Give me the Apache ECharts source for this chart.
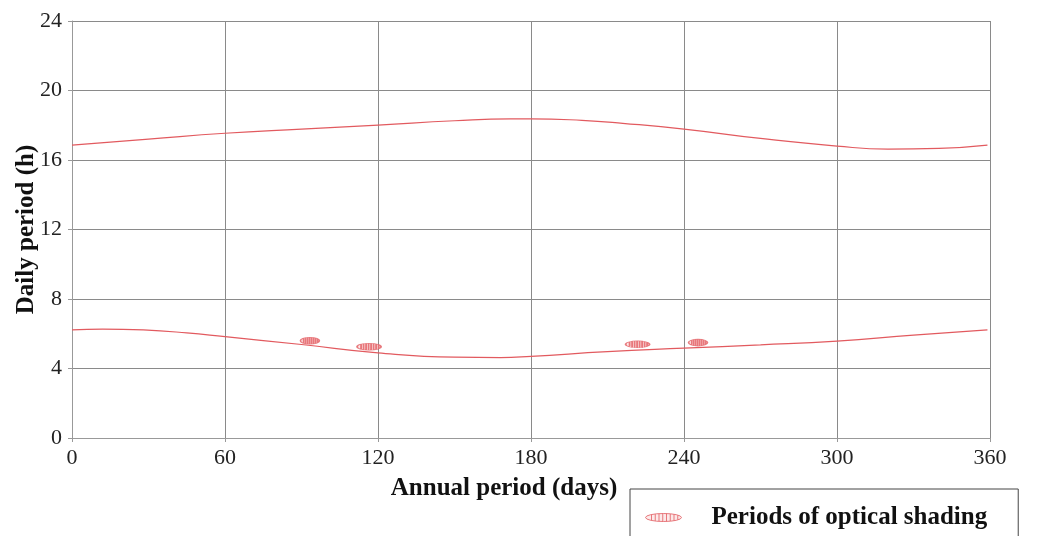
<!DOCTYPE html>
<html>
<head>
<meta charset="utf-8">
<script src="https://cdn.jsdelivr.net/npm/echarts@6/dist/echarts.min.js"></script>
<style>
  html, body { margin: 0; padding: 0; background: #fff; }
  #chart { width: 1040px; height: 536px; }
</style>
</head>
<body>
<div id="chart"></div>
<script>
// Day of year for each sample of the curves
const upperDays = [0, 30, 60, 90, 120, 150, 172, 180, 200, 216, 240, 270, 300, 320, 340, 359];
// Upper bound of the daily period (h)
const upperHours = [16.86, 17.20, 17.54, 17.78, 18.01, 18.26, 18.37, 18.37, 18.28, 18.11, 17.78, 17.24, 16.80, 16.63, 16.67, 16.86];

const lowerDays = [0, 12, 28, 45, 60, 90, 120, 150, 168, 180, 210, 240, 270, 300, 330, 359];
// Lower bound of the daily period (h)
const lowerHours = [6.22, 6.27, 6.22, 6.05, 5.83, 5.38, 4.90, 4.65, 4.63, 4.70, 4.97, 5.17, 5.36, 5.58, 5.92, 6.22];

// Periods of optical shading: [day, hour]
const shadingDays = [93.3, 116.5, 221.8, 245.5];
const shadingHours = [5.60, 5.25, 5.39, 5.49];
const shadingWidths = [19, 24, 24, 19];

const xTicks = [0, 60, 120, 180, 240, 300, 360];
const yTicks = [0, 4, 8, 12, 16, 20, 24];

const RED = '#e25a5f';
const FONT = '"Liberation Serif", "DejaVu Serif", serif';

// Hatched ellipse marker: outline plus vertical stripes
const hatchPath = 'path://M0,5 A12,5 0 1,1 24,5 A12,5 0 1,1 0,5 Z' +
  ' M4,1.8 L4,8.2 M6.5,0.9 L6.5,9.1 M9,0.4 L9,9.6 M11.5,0.1 L11.5,9.9 M14,0.2 L14,9.8' +
  ' M16.5,0.6 L16.5,9.4 M19,1.2 L19,8.8 M21.5,2.4 L21.5,7.6';

const markStyle = { color: '#fbe3e4', borderColor: RED, borderWidth: 1 };

const chart = echarts.init(document.getElementById('chart'));

chart.setOption({
  animation: false,
  backgroundColor: '#fff',
  grid: { left: 72, right: 50, top: 21, bottom: 98, containLabel: false, outerBoundsMode: 'none' },
  legend: {
    left: 630,
    top: 489,
    orient: 'horizontal',
    padding: [16, 31, 26, 15],
    borderColor: '#444',
    borderWidth: 1,
    itemWidth: 36,
    itemHeight: 8,
    itemGap: 10,
    symbolKeepAspect: false,
    selectedMode: false,
    textStyle: { fontFamily: FONT, fontWeight: 'bold', fontSize: 25, color: '#111', padding: [0, 0, 0, 25] },
    data: [{ name: 'Periods of optical shading', icon: hatchPath, itemStyle: markStyle }]
  },
  xAxis: {
    type: 'value',
    min: 0, max: 360, interval: 60,
    name: 'Annual period (days)',
    nameLocation: 'middle',
    nameGap: 38,
    nameMoveOverlap: false,
    nameTextStyle: { fontFamily: FONT, fontWeight: 'bold', fontSize: 25, color: '#111', padding: [0, 54, 0, 0] },
    axisLine: { show: true, lineStyle: { color: '#999', width: 1 } },
    axisTick: { show: true, length: 4, lineStyle: { color: '#999' } },
    axisLabel: { fontFamily: FONT, fontSize: 22, color: '#222', margin: 9,
      formatter: v => xTicks.includes(v) ? String(v) : '' },
    splitLine: { show: true, lineStyle: { color: '#8a8a8a', width: 1 } }
  },
  yAxis: {
    type: 'value',
    min: 0, max: 24, interval: 4,
    name: 'Daily period (h)',
    nameLocation: 'middle',
    nameGap: 33,
    nameMoveOverlap: false,
    nameTextStyle: { fontFamily: FONT, fontWeight: 'bold', fontSize: 25, color: '#111' },
    axisLine: { show: true, lineStyle: { color: '#999', width: 1 } },
    axisTick: { show: true, length: 4, lineStyle: { color: '#999' } },
    axisLabel: { fontFamily: FONT, fontSize: 22, color: '#222', margin: 10,
      formatter: v => yTicks.includes(v) ? String(v) : '' },
    splitLine: { show: true, lineStyle: { color: '#8a8a8a', width: 1 } }
  },
  series: [
    {
      name: 'upper',
      type: 'line',
      smooth: 0.5,
      symbol: 'none',
      lineStyle: { color: RED, width: 1.2 },
      data: upperDays.map((d, i) => [d, upperHours[i]]),
      z: 3
    },
    {
      name: 'lower',
      type: 'line',
      smooth: 0.5,
      symbol: 'none',
      lineStyle: { color: RED, width: 1.2 },
      data: lowerDays.map((d, i) => [d, lowerHours[i]]),
      z: 3
    },
    {
      name: 'Periods of optical shading',
      type: 'scatter',
      symbol: hatchPath,
      symbolKeepAspect: false,
      itemStyle: markStyle,
      data: shadingDays.map((d, i) => ({
        value: [d, shadingHours[i]],
        symbolSize: [shadingWidths[i], 7]
      })),
      z: 4
    }
  ]
});
</script>
</body>
</html>
